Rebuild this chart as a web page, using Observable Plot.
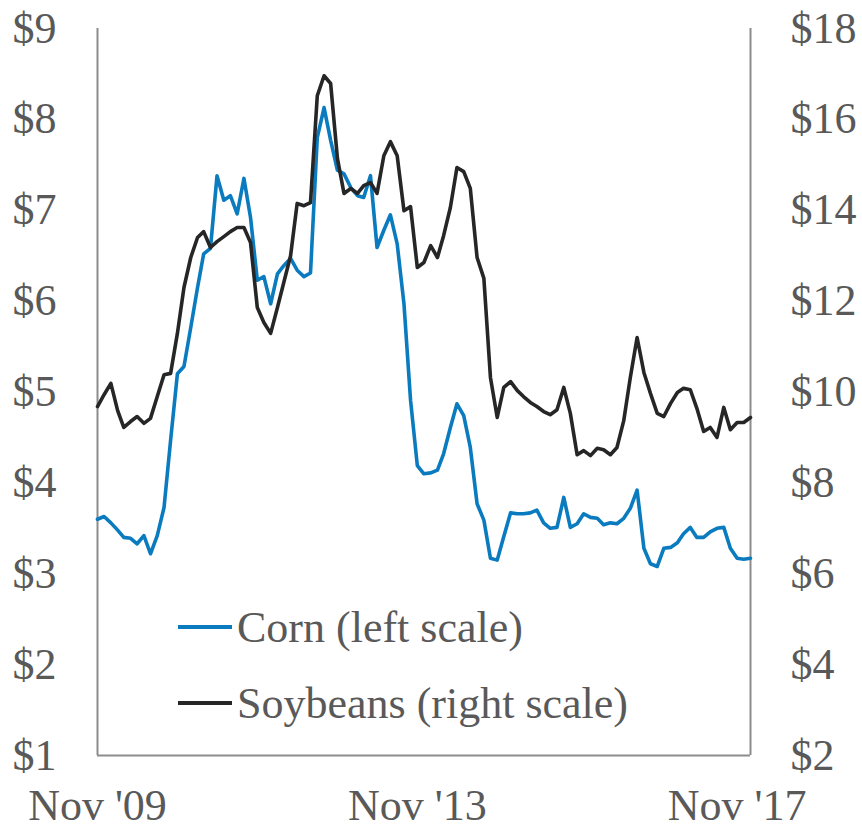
<!DOCTYPE html>
<html>
<head>
<meta charset="utf-8">
<script src="https://cdn.jsdelivr.net/npm/d3@7"></script>
<script src="https://cdn.jsdelivr.net/npm/@observablehq/plot@0.6"></script>
<style>
  html, body { margin: 0; padding: 0; background: #fff; }
  #wrap { position: relative; width: 862px; height: 829px; font-family: "Liberation Serif", "DejaVu Serif", serif; color: #595959; }
  #wrap svg { overflow: visible; }
  #legend { position: absolute; left: 178px; top: 589px; }
  .row { display: flex; align-items: center; height: 76px; font-size: 44px; white-space: nowrap; }
  .swatch { display: inline-block; width: 54px; height: 4px; margin-right: 5px; }
</style>
</head>
<body>
<div id="wrap"><div id="legend"></div></div>
<script>
// Monthly prices, Nov 2009 onward ($ per bushel)
const corn = [3.60,3.63,3.56,3.48,3.40,3.39,3.33,3.42,3.22,3.42,3.73,4.47,5.20,5.28,5.71,6.15,6.52,6.58,7.38,7.11,
  7.16,6.96,7.35,6.92,6.23,6.27,5.97,6.30,6.39,6.47,6.34,6.27,6.31,7.80,8.13,7.77,7.44,7.40,7.25,7.16,
  7.14,7.38,6.59,6.78,6.95,6.63,5.97,4.91,4.19,4.10,4.11,4.14,4.32,4.61,4.87,4.74,4.39,3.77,3.59,3.17,
  3.15,3.41,3.67,3.66,3.66,3.67,3.70,3.56,3.50,3.51,3.84,3.51,3.55,3.66,3.62,3.61,3.54,3.56,3.55,3.61,
  3.72,3.92,3.28,3.11,3.08,3.28,3.29,3.34,3.44,3.51,3.40,3.40,3.46,3.50,3.51,3.28,3.17,3.16,3.17];
const soybeans = [9.68,9.94,10.19,9.59,9.22,9.35,9.46,9.31,9.42,9.90,10.38,10.41,11.29,12.30,12.96,13.40,13.53,13.18,13.31,13.42,
  13.53,13.62,13.62,13.29,11.86,11.53,11.29,11.86,12.41,13.00,14.15,14.10,14.17,16.52,16.96,16.79,15.14,14.37,14.48,14.37,
  14.54,14.61,14.37,15.20,15.51,15.20,13.99,14.08,12.74,12.85,13.22,12.96,13.44,14.06,14.94,14.85,14.48,12.96,12.50,10.32,
  9.44,10.10,10.23,10.03,9.90,9.77,9.68,9.57,9.50,9.61,10.10,9.53,8.62,8.71,8.60,8.76,8.73,8.62,8.78,9.37,
  10.32,11.20,10.43,9.97,9.53,9.46,9.75,9.99,10.08,10.05,9.64,9.13,9.22,9.00,9.66,9.17,9.33,9.33,9.44];
const startYear = 2009, startMonth = 10; // November 2009
const leftTicks = [1,2,3,4,5,6,7,8,9];
const rightTicks = [2,4,6,8,10,12,14,16,18];
const xTickDates = [new Date(Date.UTC(2009,10,1)), new Date(Date.UTC(2013,10,1)), new Date(Date.UTC(2017,10,1))];
const xTickLabels = ["Nov '09", "Nov '13", "Nov '17"];
const seriesNames = ["Corn (left scale)", "Soybeans (right scale)"];
const colors = ["#0a7bbf", "#262626"];

const dates = corn.map((_, i) => new Date(Date.UTC(startYear, startMonth + i, 1)));
const rows = corn.map((c, i) => ({date: dates[i], corn: c, soy: soybeans[i]}));
const axisColor = "#8c8c8c";

const chart = Plot.plot({
  width: 862,
  height: 829,
  marginLeft: 97,
  marginRight: 112,
  marginTop: 28,
  marginBottom: 74,
  style: {fontFamily: '"Liberation Serif", "DejaVu Serif", serif', fontSize: "44px", color: "#595959", background: "#fff", overflow: "visible"},
  x: {type: "utc", domain: [dates[0], dates[dates.length - 1]]},
  y: {domain: [1, 9]},
  marks: [
    Plot.axisY(leftTicks, {anchor: "left", tickSize: 0, tickPadding: 41, tickFormat: d => "$" + d, label: null}),
    Plot.axisY(rightTicks.map(v => v / 2), {anchor: "right", tickSize: 0, tickPadding: 40, tickFormat: d => "$" + Math.round(d * 2), label: null}),
    Plot.axisX(xTickDates, {tickSize: 0, tickPadding: 33, tickFormat: (d, i) => xTickLabels[i], label: null}),
    Plot.ruleX([dates[0], dates[dates.length - 1]], {stroke: axisColor, strokeWidth: 2}),
    Plot.ruleY([1], {stroke: axisColor, strokeWidth: 2}),
    Plot.line(rows, {x: "date", y: "corn", stroke: colors[0], strokeWidth: 3.6, strokeLinejoin: "round"}),
    Plot.line(rows, {x: "date", y: d => d.soy / 2, stroke: colors[1], strokeWidth: 3.6, strokeLinejoin: "round"})
  ]
});

const wrap = document.getElementById("wrap");
wrap.insertBefore(chart, wrap.firstChild);

const legend = document.getElementById("legend");
seriesNames.forEach((name, i) => {
  const row = document.createElement("div");
  row.className = "row";
  const sw = document.createElement("span");
  sw.className = "swatch";
  sw.style.background = colors[i];
  const label = document.createElement("span");
  label.textContent = name;
  row.appendChild(sw);
  row.appendChild(label);
  legend.appendChild(row);
});
</script>
</body>
</html>
